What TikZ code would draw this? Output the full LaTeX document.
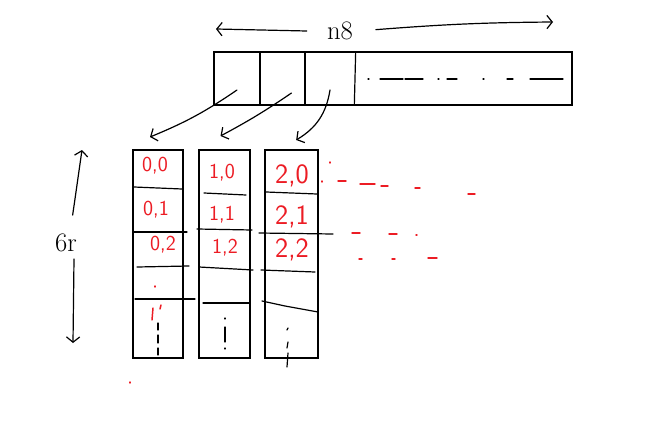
\documentclass[tikz,border=0pt]{standalone}
\usepackage{tikz}
\usetikzlibrary{arrows.meta, positioning, calc}
\definecolor{penred}{RGB}{236,28,36}
\tikzset{
  rowbox/.style={rectangle, draw=black, line width=1.5pt, outer sep=0pt,
    minimum width=268.5pt, minimum height=39.75pt, inner sep=0pt},
  slot/.style={rectangle, outer sep=0pt, inner sep=0pt, minimum height=39.75pt},
  colbox/.style={rectangle, draw=black, line width=1.5pt, outer sep=0pt,
    minimum height=156pt, inner sep=0pt},
  pen/.style={line width=0.9pt, line cap=round},
  redpen/.style={penred, line width=1.1pt, line cap=round},
  lbl/.style={text=penred, font=\sffamily\fontsize{16}{18}\selectfont, inner sep=1pt},
  lblbig/.style={lbl, font=\sffamily\fontsize{21}{23}\selectfont},
  dimlbl/.style={font=\fontsize{20}{22}\selectfont, inner sep=2pt},
  arrT/.style={pen, -{Straight Barb[length=4pt, width=10pt]}},
}

\begin{document}
\begin{tikzpicture}[x=0.75pt, y=-0.75pt]
  \useasboundingbox (0,0) rectangle (672,421);

  % the long row of 8 entries
  \node[rowbox] (row) at (393,78.5) {};
  \node[slot, minimum width=34.5pt, anchor=west] (c0) at (row.west) {};
  \node[slot, minimum width=33.75pt, right=0pt of c0] (c1) {};
  \node[slot, minimum width=37.5pt, right=0pt of c1] (c2) {};
  \node[slot, minimum width=162.75pt, right=0pt of c2] (rest) {};
  \draw[pen] (c0.north east) -- (c0.south east);
  \draw[pen] (c1.north east) -- (c1.south east);
  \draw[pen] ([xshift=0.5pt]c2.north east) -- ([xshift=-0.5pt]c2.south east);
  \foreach \a/\b in {368/369, 380/403, 405/423, 438/439, 447/457, 483/484, 507/513, 530/563}
    \draw[pen] (\a,79) -- (\b,79);

  % width label
  \node[dimlbl] (hlbl) at (340,31) {n8};
  \coordinate (hleft) at (216,29);
  \coordinate (hright) at (553,22);
  \draw[arrT] ([xshift=-13pt]hlbl.west) -- (hleft);
  \draw[arrT] ([xshift=15pt,yshift=1pt]hlbl.east) to[bend left=2] (hright);

  % the three columns
  \node[colbox, minimum width=37.5pt] (col0) at (158,254) {};
  \node[colbox, minimum width=38.25pt, right=12pt of col0] (col1) {};
  \node[colbox, minimum width=39.75pt, right=11pt of col1] (col2) {};

  % row lines inside the columns
  \draw[pen] (134,187) -- (182,189);
  \draw[pen] (133,232) -- (187,232);
  \draw[pen] (137,267) -- (189,266);
  \draw[pen] (135,299) -- (195,299);
  \draw[pen] (204,193) -- (246,195);
  \draw[pen] (197,229) -- (252,230);
  \draw[pen] (199,267) -- (253,270);
  \draw[pen] (203,303) -- (250,303);
  \draw[pen] (266,192) -- (317,194);
  \draw[pen] (259,233) -- (333,234);
  \draw[pen] (261,270) -- (315,272);
  \draw[pen] (262,301) -- (285,306) -- (318,312);

  % length label
  \node[dimlbl] (vlbl) at (66,243) {6r};
  \coordinate (vtop) at (82,150);
  \coordinate (vbot) at (73,343);
  \draw[arrT] ([xshift=5pt,yshift=12pt]vlbl.north) -- (vtop);
  \draw[arrT] ([xshift=6pt,yshift=-3pt]vlbl.south) -- (vbot);

  % first three entries go to the columns
  \draw[arrT] ([shift={(0,-15)}]c0.south) to[bend left=6] ([shift={(-8,-13)}]col0.north);
  \draw[arrT] ([shift={(9,-12)}]c1.south) to[bend left=3] ([shift={(-4,-14)}]col1.north);
  \draw[arrT] ([shift={(0,-15)}]c2.south) to[bend left=25] ([shift={(5,-10)}]col2.north);

  % index labels
  \node[lbl] (l00) at (155,166) {0,0};
  \node[lbl] (l01) at (156,210) {0,1};
  \node[lbl] (l02) at (163,245) {0,2};
  \node[lbl] (l10) at (222,173) {1,0};
  \node[lbl] (l11) at (222,215) {1,1};
  \node[lbl] (l12) at (225,248) {1,2};
  \node[lblbig] (l20) at (292,176) {2,0};
  \node[lblbig] (l21) at (292,217) {2,1};
  \node[lblbig] (l22) at (292,250) {2,2};

  % red marks
  \draw[redpen] (155,286) -- (155,287);
  \draw[redpen] (153,308) -- (152,320);
  \draw[redpen] (161,305) -- (160,309);
  \draw[redpen] (130,382) -- (130,383);
  \draw[redpen] (330,162) -- (330,163);
  \draw[redpen] (322,181) -- (322,182);
  \foreach \a/\b/\y in {338/346/181, 360/375/184, 381/388/186, 415/420/188, 468/475/194,
      352/360/233, 389/397/234, 416/417/235,
      359/362/259, 392/395/259, 428/437/258}
    \draw[redpen] (\a,\y) -- (\b,\y);

  % dotted continuation in the last cells
  \foreach \a/\b in {323/330, 335/343, 348/355}
    \draw[pen] (158,\a) -- (158,\b);
  \foreach \a/\b in {318/319, 327/342, 348/349}
    \draw[pen] (225,\a) -- (225,\b);
  \foreach \a/\b in {328/330, 342/348, 353/367}
    \draw[pen] (288,\a) -- (287,\b);
\end{tikzpicture}
\end{document}
